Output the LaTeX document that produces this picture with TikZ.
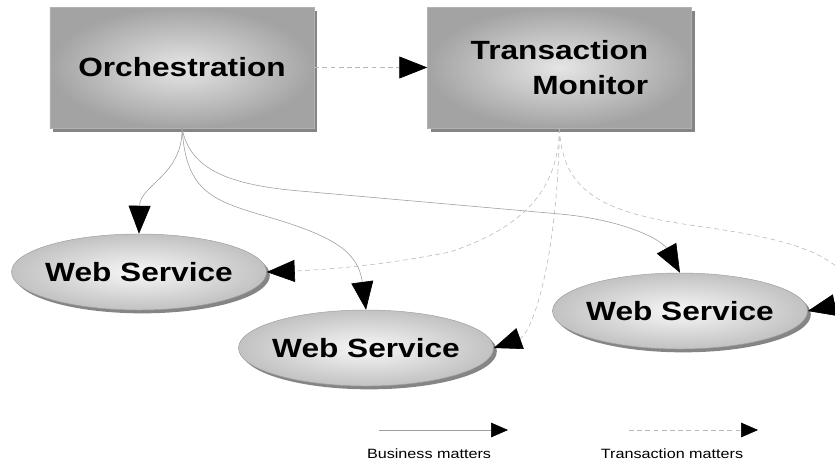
\documentclass[tikz,border=0pt]{standalone}
\usepackage{fontspec}
\setmainfont{Liberation Sans}
\newfontfamily\diagfont[FakeStretch=1.2]{Liberation Sans}
\usetikzlibrary{arrows.meta, shapes.geometric, shadows}

\begin{document}
\begin{tikzpicture}[
    x=0.3mm, y=-0.3mm,
    box/.style={rectangle, draw=black!30, shade, inner color=black!10, outer color=black!36,
      minimum width=79.2mm, minimum height=36.3mm, align=right,
      font=\diagfont\bfseries\fontsize{22.5}{29.5}\selectfont,
      drop shadow={shadow xshift=1mm, shadow yshift=-1.1mm, fill=black!48, opacity=1}},
    service/.style={ellipse, draw=black!38, shade, inner color=black!3, outer color=black!24,
      minimum width=76.5mm, minimum height=22.8mm, inner xsep=-3mm, inner ysep=0pt,
      font=\diagfont\bfseries\fontsize{22.5}{26}\selectfont,
      drop shadow={shadow xshift=1mm, shadow yshift=-1mm, fill=black!48, opacity=1}},
    legend/.style={font=\diagfont\fontsize{11.5}{13}\selectfont},
    business/.style={draw=black!38, line width=0.5pt, -{Triangle[length=8.4mm, width=6.6mm, color=black]}},
    transaction/.style={business, draw=black!28, dash pattern=on 4pt off 3pt},
    legendtip/.style={-{Triangle[length=5.1mm, width=4.4mm, color=black]}},
]

\path[use as bounding box, clip] (0,0) rectangle (835,462);

% controllers
\node[box] (orch) at (182,67.5) {Orchestration};
\node[box] (tm) at (559.5,67.5) {Transaction\\Monitor};

% services
\node[service] (ws1) at (139,272) {Web Service};
\node[service] (ws2) at (366,348) {Web Service};
\node[service] (ws3) at (680,311) {Web Service};

% business flow
\draw[business] (orch.south) .. controls (183,175) and (140,185) .. (ws1.north);
\draw[business] (orch.south) .. controls (186,190) and (210,200) .. (265,216)
  .. controls (330,235) and (358,250) .. (ws2.north);
\draw[business] (orch.south) .. controls (190,170) and (230,185) .. (300,191)
  -- (560,214) .. controls (625,220) and (662,240) .. (ws3.north);

% transaction flow
\draw[transaction] (orch.east) -- (tm.west);
\draw[transaction] (tm.south) .. controls (558,185) and (530,225) .. (450,252)
  .. controls (380,266) and (320,270) .. (ws1.east);
\draw[transaction] (tm.south) .. controls (557,270) and (530,335) .. (ws2.east);
\draw[transaction] (tm.south) .. controls (562,190) and (600,212) .. (690,225)
  .. controls (760,235) and (820,245) .. (845,275)
  .. controls (855,295) and (845,303) .. (ws3.east);

% legend
\coordinate (b0) at (379,430);
\coordinate (b1) at (508,430);
\coordinate (t0) at (629,430);
\coordinate (t1) at (758,430);
\draw[business, legendtip] (b0) -- (b1);
\draw[transaction, legendtip] (t0) -- (t1);
\node[legend] (blabel) at (429,453.5) {Business matters};
\node[legend] (tlabel) at (672,453.5) {Transaction matters};

\end{tikzpicture}
\end{document}
